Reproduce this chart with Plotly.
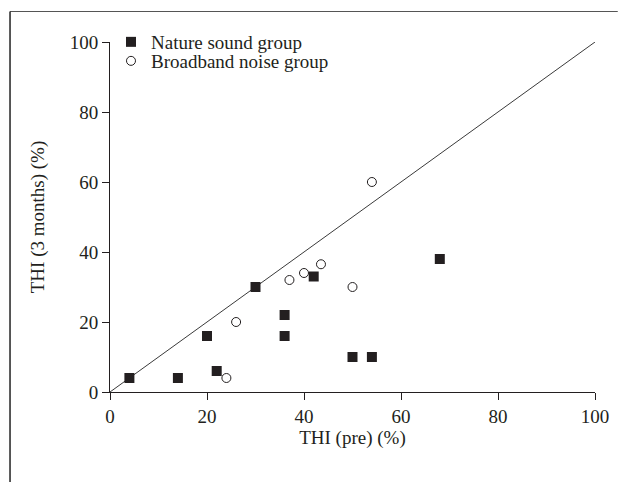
import plotly.graph_objects as go

# Data (THI pre vs THI at 3 months, %)
nature_pre = [4, 14, 20, 22, 30, 36, 36, 42, 50, 54, 68]
nature_3m = [4, 4, 16, 6, 30, 22, 16, 33, 10, 10, 38]
broadband_pre = [24, 26, 37, 40, 43.5, 50, 54]
broadband_3m = [4, 20, 32, 34, 36.5, 30, 60]
ref_line = [0, 100]
tick_vals = [0, 20, 40, 60, 80, 100]

W, H = 621, 482
L, R, T, B = 110, 21, 42, 90
pw, ph = W - L - R, H - T - B

def px(x):
    return (x - L) / pw

def py(y):
    return (H - B - y) / ph

ink = "#231f20"
font = "Liberation Serif"
leg_font = dict(size=19, family=font, color=ink)

fig = go.Figure()
fig.add_trace(go.Scatter(
    x=ref_line, y=ref_line, mode="lines",
    line=dict(color="#3a3a3a", width=1), showlegend=False, hoverinfo="skip"))
fig.add_trace(go.Scatter(
    x=nature_pre, y=nature_3m, mode="markers", name="Nature sound group",
    marker=dict(symbol="square", size=10, color=ink, line=dict(width=0)),
    cliponaxis=False, legend="legend"))
fig.add_trace(go.Scatter(
    x=broadband_pre, y=broadband_3m, mode="markers", name="Broadband noise group",
    marker=dict(symbol="circle", size=9, color="white", line=dict(color=ink, width=1)),
    cliponaxis=False, legend="legend2"))

legend_common = dict(xanchor="left", yanchor="top", bgcolor="rgba(0,0,0,0)",
                     borderwidth=0, font=leg_font, itemwidth=30)

fig.update_layout(
    width=W, height=H, autosize=False,
    margin=dict(l=L, r=R, t=T, b=B, pad=0),
    paper_bgcolor="white", plot_bgcolor="white",
    font=dict(family=font, size=19, color=ink),
    showlegend=True,
    legend=dict(x=px(111), y=py(23), **legend_common),
    legend2=dict(x=px(111), y=py(42), **legend_common),
    xaxis=dict(range=[0, 100], tickvals=tick_vals, showgrid=False, zeroline=False,
               showline=True, linecolor=ink, linewidth=1,
               ticks="outside", ticklen=7, tickcolor=ink, tickwidth=1,
               tickfont=dict(size=19, family=font, color=ink),
               title=dict(text="THI (pre) (%)", font=dict(size=19, family=font, color=ink),
                          standoff=4)),
    yaxis=dict(range=[0, 100], tickvals=tick_vals, showgrid=False, zeroline=False,
               showline=True, linecolor=ink, linewidth=1,
               ticks="outside", ticklen=7, tickcolor=ink, tickwidth=1,
               tickfont=dict(size=19, family=font, color=ink),
               title=dict(text="THI (3 months) (%)", font=dict(size=19, family=font, color=ink),
                          standoff=20)),
    shapes=[
        dict(type="line", xref="paper", yref="paper", x0=px(9), x1=px(W + 2),
             y0=py(11.5), y1=py(11.5), line=dict(color="#555555", width=1)),
        dict(type="line", xref="paper", yref="paper", x0=px(9), x1=px(9),
             y0=py(11.5), y1=py(H + 2), line=dict(color="#222222", width=1.5)),
    ],
)

fig.write_html("out.html")
